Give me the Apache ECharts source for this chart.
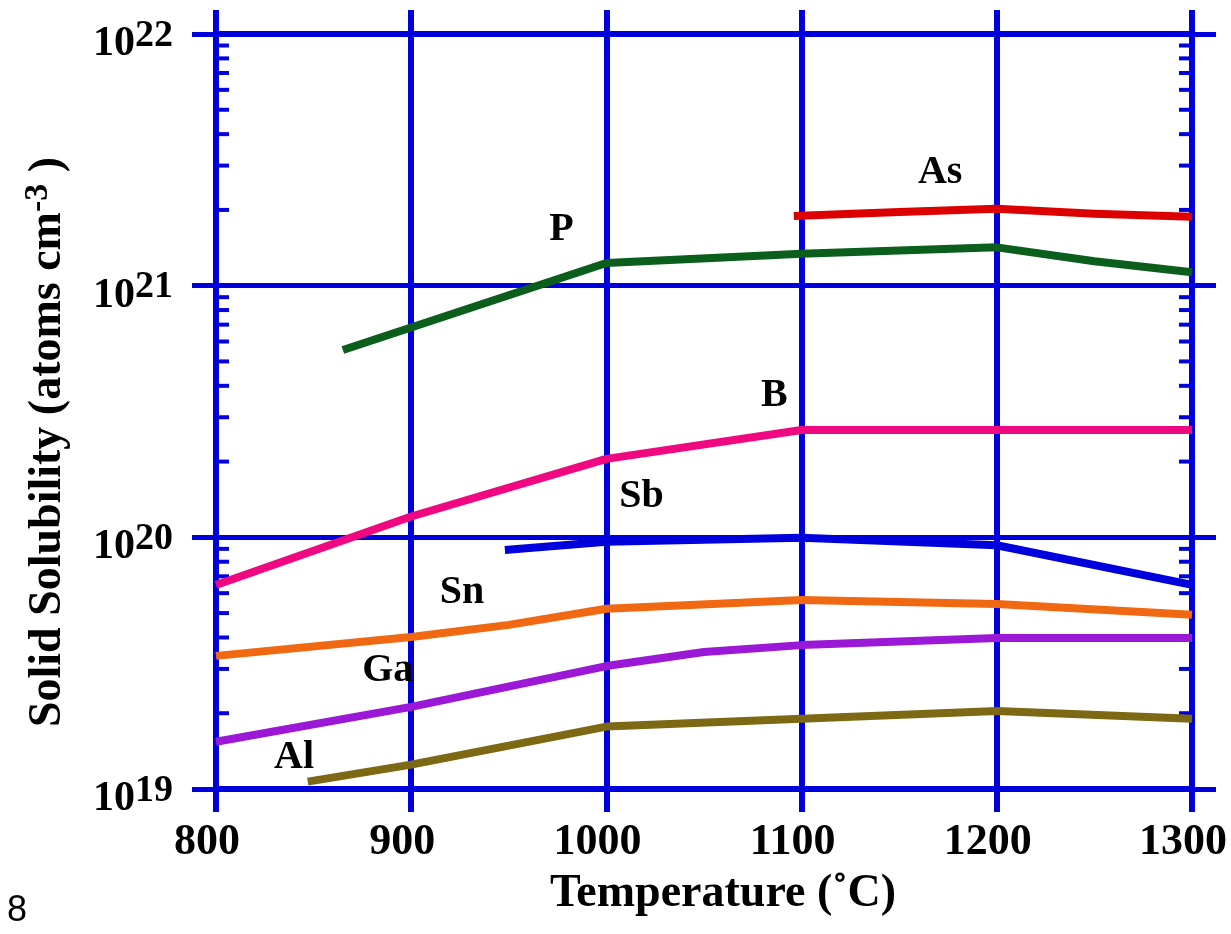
<!DOCTYPE html>
<html><head><meta charset="utf-8">
<script src="https://cdn.jsdelivr.net/npm/echarts@6/dist/echarts.min.js"></script>
<style>html,body{margin:0;padding:0;background:#fff}#c{width:1231px;height:934px}</style>
</head><body><div id="c"></div>
<script>
// ---- data ----
const xMin = 800, xMax = 1300, xStep = 100;
const yMin = 1e19, yMax = 1e22;

const tempAs = [1096, 1150, 1200, 1250, 1300];
const solAs  = [1.89e21, 1.96e21, 2.02e21, 1.93e21, 1.88e21];
const tempP  = [865, 1000, 1100, 1200, 1250, 1300];
const solP   = [5.55e20, 1.23e21, 1.34e21, 1.42e21, 1.25e21, 1.13e21];
const tempB  = [800, 900, 1000, 1100, 1200, 1300];
const solB   = [6.47e19, 1.21e20, 2.05e20, 2.67e20, 2.67e20, 2.67e20];
const tempSb = [948, 1000, 1100, 1200, 1300];
const solSb  = [8.9e19, 9.6e19, 9.97e19, 9.3e19, 6.47e19];
const tempSn = [800, 900, 950, 1000, 1100, 1200, 1300];
const solSn  = [3.38e19, 4.02e19, 4.49e19, 5.2e19, 5.64e19, 5.43e19, 4.92e19];
const tempGa = [800, 900, 1000, 1050, 1100, 1200, 1300];
const solGa  = [1.54e19, 2.12e19, 3.08e19, 3.5e19, 3.73e19, 3.98e19, 3.98e19];
const tempAl = [847, 900, 1000, 1100, 1200, 1300];
const solAl  = [1.07e19, 1.25e19, 1.77e19, 1.90e19, 2.04e19, 1.90e19];

const labelNames = ['As', 'P', 'B', 'Sb', 'Sn', 'Ga', 'Al'];
const labelTemps = [1171, 977, 1086, 1018, 926, 888, 840];
const labelSols  = [2.80e21, 1.67e21, 3.65e20, 1.45e20, 6.05e19, 2.95e19, 1.33e19];

const minorMantissas = [2, 3, 4, 5, 6, 7, 8, 9];
const decades = [19, 20, 21];

const xTitle = 'Temperature (\u02DAC)';
const yTitleMain = 'Solid Solubility (atoms cm';
const yTitleSup = '-3';
const yTitleEnd = ' )';
const pageNote = '8';

// ---- styles ----
const BLUE = '#0000dd';
const SERIF = '"Liberation Serif","Times New Roman",serif';
const colors = {As:'#dd0000', P:'#0b5e1c', B:'#f00880', Sb:'#0000dd', Sn:'#f06812', Ga:'#9a18d6', Al:'#7d6914'};

function zip(t, s){ return t.map((v,i)=>[v, s[i]]); }
function lineSeries(name, t, s){
  return {type:'line', name, data: zip(t,s), showSymbol:false, symbol:'none',
    lineStyle:{color:colors[name], width:8, cap:'butt', join:'round'}, z:5, silent:true, animation:false};
}
const minorVals = [];
decades.forEach(d => minorMantissas.forEach(m => minorVals.push([xMin, m*Math.pow(10,d)])));

const chart = echarts.init(document.getElementById('c'), null, {renderer:'canvas'});
chart.setOption({
  animation:false,
  backgroundColor:'#fff',
  grid:{left:216, right:39, top:34, bottom:145},
  xAxis:[{
    type:'value', min:xMin, max:xMax, interval:xStep, position:'bottom',
    axisLine:{lineStyle:{color:BLUE, width:6}},
    axisTick:{show:true, length:23, lineStyle:{color:BLUE, width:6}},
    splitLine:{show:true, lineStyle:{color:BLUE, width:6}},
    axisLabel:{color:'#000', fontFamily:SERIF, fontWeight:'bold', fontSize:44, margin:32, padding:[0,18,0,0],
      formatter: v => String(v)},
    name:xTitle, nameLocation:'middle', nameGap:82,
    nameTextStyle:{color:'#000', fontFamily:SERIF, fontWeight:'bold', fontSize:46, padding:[0,0,0,38]}
  },{
    type:'value', min:xMin, max:xMax, interval:xStep, position:'top',
    axisLine:{lineStyle:{color:BLUE, width:6}},
    axisTick:{show:true, length:24, lineStyle:{color:BLUE, width:6}},
    splitLine:{show:false}, axisLabel:{show:false}
  }],
  yAxis:[{
    type:'log', logBase:10, min:yMin, max:yMax, splitNumber:3, position:'left',
    axisLine:{lineStyle:{color:BLUE, width:6}},
    axisTick:{show:true, length:24, lineStyle:{color:BLUE, width:5}},
    splitLine:{show:true, lineStyle:{color:BLUE, width:5}},
    minorTick:{show:false},
    axisLabel:{margin:43, formatter: v => '{m|10}{s|' + Math.round(Math.log10(v)) + '}',
      rich:{
        m:{color:'#000', fontFamily:SERIF, fontWeight:'bold', fontSize:42, verticalAlign:'bottom', padding:[20,0,0,0]},
        s:{color:'#000', fontFamily:SERIF, fontWeight:'bold', fontSize:38, verticalAlign:'bottom', padding:[0,0,10,0]}
      }}
  },{
    type:'log', logBase:10, min:yMin, max:yMax, splitNumber:3, position:'right',
    axisLine:{lineStyle:{color:BLUE, width:6}},
    axisTick:{show:true, length:24, lineStyle:{color:BLUE, width:5}},
    splitLine:{show:false}, axisLabel:{show:false}
  }],
  series:[
    {type:'custom', data:minorVals, z:3, silent:true, clip:false,
      renderItem:(params, api) => {
        const v = api.value(1);
        const pL = api.coord([xMin, v]);
        const pR = api.coord([xMax, v]);
        return {type:'group', children:[
          {type:'line', shape:{x1:pL[0], y1:pL[1], x2:pL[0]+13, y2:pL[1]}, style:{stroke:BLUE, lineWidth:4}},
          {type:'line', shape:{x1:pR[0]-13, y1:pR[1], x2:pR[0], y2:pR[1]}, style:{stroke:BLUE, lineWidth:4}}
        ]};
      }},
    lineSeries('Al', tempAl, solAl),
    lineSeries('Ga', tempGa, solGa),
    lineSeries('Sn', tempSn, solSn),
    lineSeries('Sb', tempSb, solSb),
    lineSeries('B', tempB, solB),
    lineSeries('P', tempP, solP),
    lineSeries('As', tempAs, solAs),
    {type:'scatter', symbolSize:0.1, itemStyle:{color:'transparent', opacity:1}, z:6, silent:true,
      data: labelNames.map((n,i)=>({name:n, value:[labelTemps[i], labelSols[i]]})),
      label:{show:true, position:'inside', formatter: p => p.name, color:'#000', opacity:1,
        fontFamily:SERIF, fontWeight:'bold', fontSize:40}}
  ],
  graphic:[
    {type:'text', x:46, y:442, rotation:Math.PI/2, z:10,
      style:{text:'{m|' + yTitleMain + '}{s|' + yTitleSup + '}{m|' + yTitleEnd + '}',
        align:'center', verticalAlign:'middle',
        rich:{
          m:{fill:'#000', fontFamily:SERIF, fontWeight:'bold', fontSize:46, verticalAlign:'bottom'},
          s:{fill:'#000', fontFamily:SERIF, fontWeight:'bold', fontSize:34, verticalAlign:'bottom', padding:[0,0,16,0]}
        }}},
    {type:'text', x:7, y:893, z:10, style:{text:pageNote, fill:'#000', fontFamily:'"Liberation Sans",Arial,sans-serif', fontSize:36}}
  ]
});
</script></body></html>
